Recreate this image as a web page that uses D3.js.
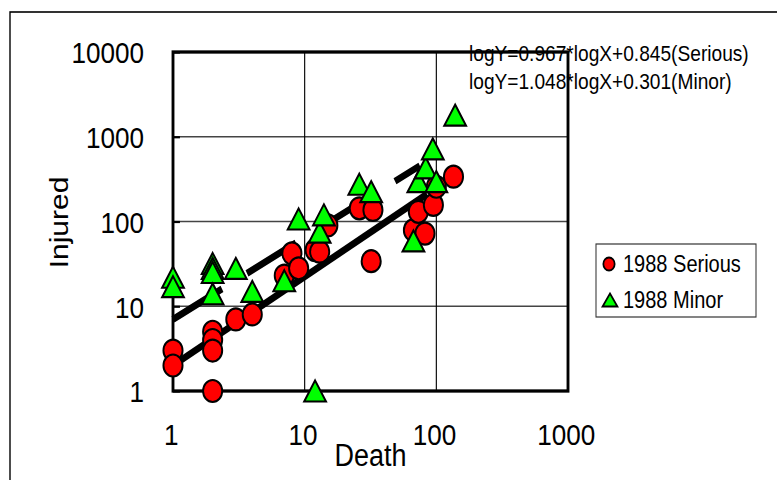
<!DOCTYPE html>
<html>
    <head>
        <title>Death vs Injured</title>
        <style>
            body { margin: 0; background: #fff; }
            svg { display: block; }
            text { font-family: "Liberation Sans", Arial, sans-serif; fill: #000; }
        </style>
        <script src="https://cdnjs.cloudflare.com/ajax/libs/d3/7.8.5/d3.min.js" charset="utf-8"></script>
    </head>
    <body>
        <div id="chart"></div>
        <script>
            // (log-log)
            const seriousDeath   = [1, 1, 2, 2, 2, 2, 3, 4, 7, 8, 9, 12, 13, 15, 26, 32, 33, 67, 73, 82, 95, 100, 135];
            const seriousInjured = [3, 2, 5, 4, 3, 1, 7, 8, 23, 42, 28, 46, 44, 90, 143, 34, 137, 79, 130, 72, 157, 257, 338];
            const minorDeath   = [1, 1, 2, 2, 2, 2, 3, 4, 7, 9, 12, 13, 14, 26, 32, 67, 73, 83, 94, 100, 139];
            const minorInjured = [22, 17, 32, 28, 25, 14, 28, 15, 20, 107, 1, 75, 120, 275, 225, 59, 295, 430, 720, 295, 1800];

            const xTicks = [1, 10, 100, 1000];
            const yTicks = [1, 10, 100, 1000, 10000];

            // fitted lines: logY = a*logX + b
            const fitSlope = [0.967, 1.048];
            const fitIntercept = [0.845, 0.301];
            const fitFrom = [1, 1];
            const fitTo = [75, 85];
            const fitText = ["logY=0.967*logX+0.845(Serious)", "logY=1.048*logX+0.301(Minor)"];

            const legendNames = ["1988 Serious", "1988 Minor"];

            const w = 777, h = 480;
            const SX = 0.87;               // the original is squeezed horizontally
            const vx = px => px / SX;

            const svg = d3.select("#chart").append("svg")
                .attr("width", w)
                .attr("height", h);
            const g = svg.append("g").attr("transform", "scale(" + SX + ",1)");

            const x = d3.scaleLog().domain([1, 1000]).range([vx(173), vx(568)]);
            const y = d3.scaleLog().domain([1, 10000]).range([391, 52]);

            // outer chart frame (runs off the right and bottom)
            g.append("rect")
                .attr("x", vx(10)).attr("y", 12)
                .attr("width", vx(900)).attr("height", 600)
                .attr("fill", "none").attr("stroke", "#000").attr("stroke-width", 1.6);

            // gridlines
            g.selectAll(".hgrid")
                .data(yTicks.slice(1, -1))
                .enter().append("line")
                    .attr("x1", x(1)).attr("x2", x(1000))
                    .attr("y1", d => y(d)).attr("y2", d => y(d))
                    .attr("stroke", "#444").attr("stroke-width", 1.4);
            g.selectAll(".vgrid")
                .data(xTicks.slice(1, -1))
                .enter().append("line")
                    .attr("x1", d => x(d)).attr("x2", d => x(d))
                    .attr("y1", y(1)).attr("y2", y(10000))
                    .attr("stroke", "#000").attr("stroke-width", 1.3);

            // equations (the plot frame is drawn over the first one)
            g.selectAll(".eq")
                .data(fitText)
                .enter().append("text")
                    .attr("x", vx(469))
                    .attr("y", (d, i) => 61 + i * 28)
                    .attr("font-size", 22)
                    .text(d => d);

            // axes
            const yAxis = g.append("g")
                .attr("transform", "translate(" + x(1) + ",0)")
                .call(d3.axisLeft(y).tickValues(yTicks).tickFormat(d3.format("d"))
                    .tickSize(-8).tickPadding(vx(173) - vx(144)));
            yAxis.select(".domain").remove();
            yAxis.selectAll("line").attr("stroke-width", 2.2);
            yAxis.selectAll("text").attr("font-size", 30).attr("dy", "0.36em")
                .attr("font-family", "Liberation Sans, Arial, sans-serif");

            const xAxis = g.append("g")
                .attr("transform", "translate(0," + y(1) + ")")
                .call(d3.axisBottom(x).tickValues(xTicks).tickFormat(d3.format("d"))
                    .tickSize(0).tickPadding(33));
            xAxis.select(".domain").remove();
            xAxis.selectAll("text").attr("font-size", 30).attr("dx", -2.5)
                .attr("font-family", "Liberation Sans, Arial, sans-serif");

            // plot frame
            g.append("rect")
                .attr("x", x(1)).attr("y", y(10000))
                .attr("width", x(1000) - x(1)).attr("height", y(1) - y(10000))
                .attr("fill", "none").attr("stroke", "#000").attr("stroke-width", 3.3);

            // axis titles
            g.append("text")
                .attr("x", vx(370.5)).attr("y", 466)
                .attr("text-anchor", "middle")
                .attr("font-size", 31)
                .text("Death");
            g.append("text")
                .attr("transform", "translate(" + vx(67.5) + ",222.5) rotate(-90)")
                .attr("text-anchor", "middle")
                .attr("font-size", 30)
                .text("Injured");

            // trend lines, the first one long-dashed
            fitSlope.forEach(function(a, i) {
                const b = fitIntercept[i];
                const p0 = [x(fitFrom[i]), y(Math.pow(10, a * Math.log10(fitFrom[i]) + b))];
                const p1 = [x(fitTo[i]), y(Math.pow(10, a * Math.log10(fitTo[i]) + b))];
                const line = g.append("line")
                    .attr("x1", p0[0]).attr("y1", p0[1])
                    .attr("x2", p1[0]).attr("y2", p1[1])
                    .attr("stroke", "#000").attr("stroke-width", 7)
                    .attr("stroke-linecap", "butt");
                if (i === 0) {
                    // dash / gap measured along screen x: 49px / 25px
                    const len = Math.hypot(p1[0] - p0[0], p1[1] - p0[1]);
                    const span = (p1[0] - p0[0]) * SX;
                    line.attr("stroke-dasharray", (49 / span * len) + "," + (25 / span * len));
                }
            });

            const tri = (tw, th) => "M0," + (-th / 2) + "L" + (tw / 2) + "," + (th / 2) + "L" + (-tw / 2) + "," + (th / 2) + "Z";

            // serious: red circles
            g.selectAll(".serious")
                .data(seriousDeath.map((d, i) => [d, seriousInjured[i]]))
                .enter().append("circle")
                    .attr("cx", d => x(d[0]))
                    .attr("cy", d => y(d[1]))
                    .attr("r", 11)
                    .attr("fill", "#ff0000")
                    .attr("stroke", "#000").attr("stroke-width", 2.2);

            // minor: green triangles
            g.selectAll(".minor")
                .data(minorDeath.map((d, i) => [d, minorInjured[i]]))
                .enter().append("path")
                    .attr("transform", d => "translate(" + x(d[0]) + "," + y(d[1]) + ")")
                    .attr("d", tri(25, 21))
                    .attr("fill", "#00ff00")
                    .attr("stroke", "#000").attr("stroke-width", 2.2)
                    .attr("stroke-linejoin", "miter");

            // legend
            const legend = g.append("g");
            legend.append("rect")
                .attr("x", vx(596)).attr("y", 244)
                .attr("width", vx(756) - vx(596)).attr("height", 73)
                .attr("fill", "#fff").attr("stroke", "#333").attr("stroke-width", 1.2);
            legend.append("circle")
                .attr("cx", vx(609)).attr("cy", 264).attr("r", 6.5)
                .attr("fill", "#ff0000").attr("stroke", "#000").attr("stroke-width", 2);
            legend.append("path")
                .attr("transform", "translate(" + vx(610) + ",300)")
                .attr("d", tri(17, 13))
                .attr("fill", "#00ff00").attr("stroke", "#000").attr("stroke-width", 2);
            legend.selectAll(".legtext")
                .data(legendNames)
                .enter().append("text")
                    .attr("x", vx(623))
                    .attr("y", (d, i) => 272 + i * 36)
                    .attr("font-size", 23)
                    .text(d => d);
        </script>
    </body>
</html>
